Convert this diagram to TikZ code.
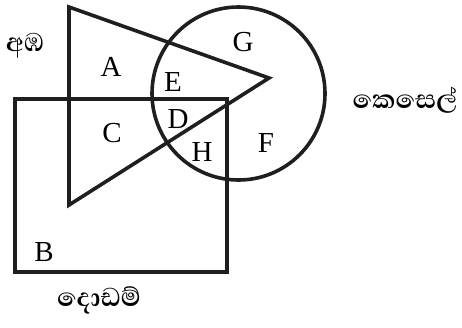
\documentclass[tikz,border=0pt]{standalone}
\usepackage{fontspec}
\setmainfont{Liberation Serif}
\newfontfamily\sinhala[Script=Sinhala]{Abhaya Libre}
\tikzset{
  shape line/.style={line width=3.6pt, draw=black!88},
  region/.style={font=\fontsize{29}{32}\selectfont, inner sep=0pt},
  setname/.style={font=\sinhala\fontsize{33}{36}\selectfont\bfseries, inner sep=0pt}
}
\begin{document}
\begin{tikzpicture}[x=1pt,y=-1pt]
  \useasboundingbox (0,0) rectangle (462,327);
  % triangle, circle and rectangle
  \draw[shape line, line join=miter] (69,7) -- (269,78) -- (69,205) -- cycle;
  \draw[shape line] (238.5,93.5) circle (86.5);
  \draw[shape line] (15,99) rectangle (227,272);
  % region letters
  \node[region] (A) at (111,67) {A};
  \node[region] (E) at (173,82) {E};
  \node[region] (G) at (243,42) {G};
  \node[region] (C) at (112,133) {C};
  \node[region] (D) at (178,119) {D};
  \node[region] (H) at (202,152) {H};
  \node[region] (F) at (266,143) {F};
  \node[region] (B) at (44,252) {B};
  % set names
  \node[setname] (amba) at (25,46) {අඹ};
  \node[setname] (kesel) at (405,100) {කෙසෙල්};
  \node[setname] (dodam) at (99,300) {දොඩම්};
\end{tikzpicture}
\end{document}
